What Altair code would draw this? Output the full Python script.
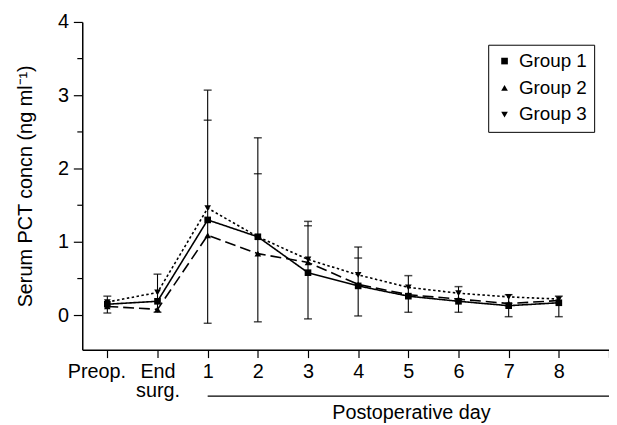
import altair as alt
import pandas as pd

# positions: 0=Preop., 1=End surg., 2..9 = postoperative days 1..8
x_pos = [0, 1, 2, 3, 4, 5, 6, 7, 8, 9]
x_labels = ["Preop.", "End\nsurg.", "1", "2", "3", "4", "5", "6", "7", "8"]
groups = ["Group 1", "Group 2", "Group 3"]

group1 = [0.15, 0.19, 1.30, 1.07, 0.58, 0.40, 0.26, 0.19, 0.13, 0.17]
group2 = [0.12, 0.08, 1.09, 0.84, 0.72, 0.42, 0.28, 0.22, 0.16, 0.20]
group3 = [0.18, 0.31, 1.46, 1.07, 0.76, 0.55, 0.38, 0.30, 0.25, 0.22]

err_lo = [0.03, 0.04, -0.11, -0.09, -0.05, -0.01, 0.04, 0.04, -0.02, -0.02]
err_hi = [0.26, 0.56, 3.07, 2.42, 1.28, 0.93, 0.54, 0.39, 0.28, 0.26]
err_mid = [None, None, 2.66, 1.93, 1.22, 0.78, None, None, None, None]

y_major = [0, 1, 2, 3, 4]
y_minor = [0.5, 1.5, 2.5, 3.5]
x_ticks = [0, 1, 2, 3, 4, 5, 6, 7, 8, 9, 10]

FONT = "Liberation Sans"

rows = []
for g, vals in zip(groups, [group1, group2, group3]):
    for x, v in zip(x_pos, vals):
        rows.append({"x": x, "y": v, "group": g, "series": g})
df = pd.DataFrame(rows)

err_df = pd.DataFrame({"x": x_pos, "lo": err_lo, "hi": err_hi})
cap_rows = []
for x, lo, hi, mid in zip(x_pos, err_lo, err_hi, err_mid):
    cap_rows.append({"x": x, "y": lo})
    cap_rows.append({"x": x, "y": hi})
    if mid is not None:
        cap_rows.append({"x": x, "y": mid})
cap_df = pd.DataFrame(cap_rows)
minor_df = pd.DataFrame({"y": y_minor})

# label expression built from x_labels
parts = []
for p, lab in zip(x_pos, x_labels):
    if "\n" in lab:
        a, b = lab.split("\n")
        parts.append(f"datum.value == {p} ? ['{a}', '{b}']")
    else:
        parts.append(f"datum.value == {p} ? '{lab}'")
label_expr = " : ".join(parts) + " : ''"

x_scale = alt.Scale(domain=[-0.5, 10], nice=False, zero=False)
y_scale = alt.Scale(domain=[-0.47, 4], nice=False, zero=False)

x_enc = alt.X("x:Q", scale=x_scale,
              axis=alt.Axis(values=x_ticks, labelExpr=label_expr, grid=False,
                            title="Postoperative day", titleFont=FONT,
                            titleFontSize=20, titleFontWeight="normal",
                            titleColor="black", titleX=332, titleY=54,
                            titleBaseline="top",
                            labelFont=FONT, labelFontSize=20, labelColor="black",
                            labelLineHeight=19, labelPadding=4,
                            labelOffset={"condition": {"test": "datum.value == 0", "value": -11},
                                         "value": 0},
                            tickSize=8, tickColor="black", domainColor="black",
                            domainWidth=1.5, tickWidth=1.2, labelFlush=False,
                            labelOverlap=False))
y_enc = alt.Y("y:Q", scale=y_scale,
              axis=alt.Axis(values=y_major, grid=False, format="d",
                            title="Serum PCT concn (ng ml\u207b\u00b9)",
                            titleFont=FONT, titleFontSize=20,
                            titleFontWeight="normal", titleColor="black",
                            titlePadding=22,
                            labelFont=FONT, labelFontSize=20, labelColor="black",
                            labelPadding=5, tickSize=9, tickColor="black",
                            domainColor="black", domainWidth=1.5, tickWidth=1.2))

lines = alt.Chart(df).mark_line(color="black", strokeWidth=1.6).encode(
    x=x_enc, y=y_enc,
    strokeDash=alt.StrokeDash("series:N",
                              scale=alt.Scale(domain=groups,
                                              range=[[1, 0], [11, 5], [2.5, 2.5]]),
                              legend=None),
    detail="series:N",
)

points = alt.Chart(df).mark_point(filled=True, opacity=1).encode(
    x="x:Q", y="y:Q",
    shape=alt.Shape("group:N",
                    scale=alt.Scale(domain=groups,
                                    range=["square", "triangle-up", "triangle-down"]),
                    legend=alt.Legend(title=None, orient="none", legendX=410,
                                      legendY=23, strokeColor="black",
                                      padding=7, labelFont=FONT, labelFontSize=19,
                                      labelColor="black", symbolSize=45,
                                      symbolFillColor="black",
                                      rowPadding=7, labelOffset=5)),
    color=alt.value("black"),
    size=alt.value(45),
)

bars = alt.Chart(err_df).mark_rule(color="black", strokeWidth=1.1).encode(
    x="x:Q", y="lo:Q", y2="hi:Q")

caps = alt.Chart(cap_df).mark_tick(color="black", orient="horizontal",
                                   size=8, thickness=1.5).encode(
    x="x:Q", y="y:Q")

minor = alt.Chart(minor_df).mark_rule(color="black", strokeWidth=1.2).encode(
    y="y:Q", x=alt.value(-5), x2=alt.value(0))

post_df = pd.DataFrame({"x": [2], "x2": [10]})
post_line = alt.Chart(post_df).mark_rule(color="black", strokeWidth=1.2).encode(
    x="x:Q", x2="x2:Q", y=alt.value(378))

chart = alt.layer(lines, bars, caps, points, minor, post_line).properties(
    width=532, height=331,
    autosize=alt.AutoSizeParams(type="none"),
    padding={"left": 75, "top": 12, "right": 0, "bottom": 76},
    background="white",
).resolve_scale(shape="independent", strokeDash="independent"
).configure_view(stroke=None)

chart.save("out.html", embed_options={"renderer": "svg", "actions": False})
